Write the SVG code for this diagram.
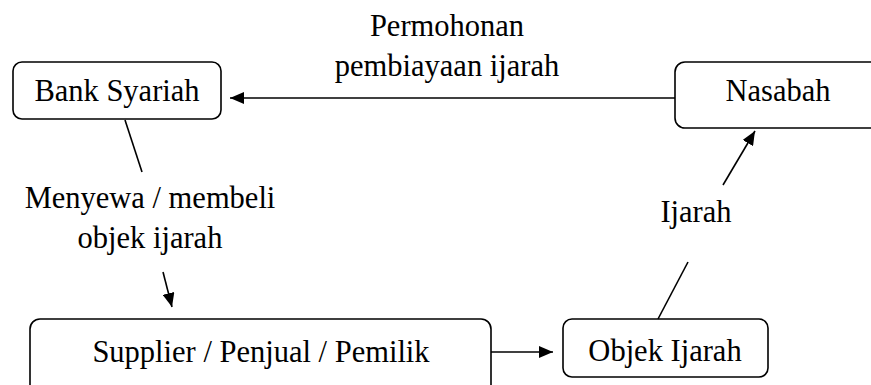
<svg xmlns="http://www.w3.org/2000/svg" width="871" height="385" viewBox="0 0 871 385">
<defs>
<style>
.box{fill:#fff;stroke:#000;stroke-width:1.6}
.t{font-family:"Liberation Serif","Times New Roman",serif;font-size:30.5px;fill:#000;text-anchor:middle}
.c{stroke:#000;stroke-width:1.6;fill:none}
</style>
<marker id="ah" viewBox="0 0 14 12" refX="14" refY="6" markerWidth="14" markerHeight="12" markerUnits="userSpaceOnUse" orient="auto">
<path d="M0,0 L14,6 L0,12 Z" fill="#000"/>
</marker>
</defs>
<rect width="871" height="385" fill="#fff"/>
<g id="bank"><rect class="box" x="13" y="62" width="208" height="57" rx="9"/><text class="t" x="117" y="101">Bank Syariah</text></g>
<g id="nasabah"><rect class="box" x="675" y="62" width="220" height="66" rx="10"/><text class="t" x="778" y="101">Nasabah</text></g>
<g id="supplier"><rect class="box" x="30" y="319" width="461" height="80" rx="10"/><text class="t" x="261" y="362">Supplier / Penjual / Pemilik</text></g>
<g id="objek"><rect class="box" x="563" y="319" width="205" height="58" rx="9"/><text class="t" x="665" y="361">Objek Ijarah</text></g>
<g id="connectors">
<line class="c" x1="675" y1="98" x2="230" y2="98" marker-end="url(#ah)"/>
<line class="c" x1="125" y1="120" x2="142" y2="172"/>
<line class="c" x1="163" y1="272" x2="172" y2="307" marker-end="url(#ah)"/>
<line class="c" x1="491" y1="352" x2="553" y2="352" marker-end="url(#ah)"/>
<line class="c" x1="658" y1="319" x2="688" y2="262"/>
<line class="c" x1="723" y1="185" x2="755" y2="131" marker-end="url(#ah)"/>
</g>
<g id="labels">
<text class="t" x="447" y="36">Permohonan</text>
<text class="t" x="447" y="76">pembiayaan ijarah</text>
<text class="t" x="150" y="208">Menyewa / membeli</text>
<text class="t" x="150" y="248">objek ijarah</text>
<text class="t" x="696" y="222">Ijarah</text>
</g>
</svg>
